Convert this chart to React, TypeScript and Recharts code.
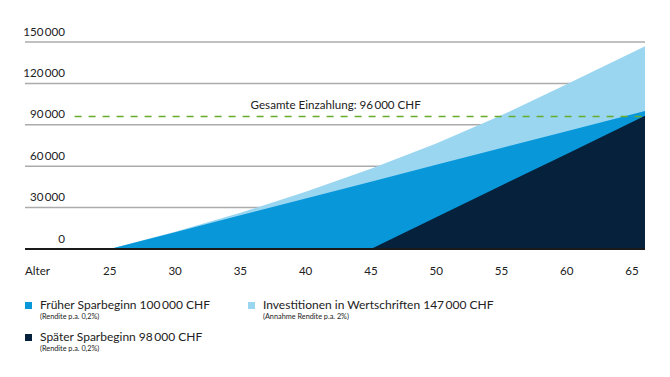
import { AreaChart, Area, XAxis, YAxis, CartesianGrid, ReferenceLine } from 'recharts'

const ages = [25, 30, 35, 40, 45, 50, 55, 60, 66]
const investValues = [0, 12500, 26200, 41400, 58100, 76500, 96900, 119400, 147000]
const earlyValues = [0, 12200, 24400, 36600, 48800, 61000, 73200, 85400, 100000]
const lateValues = [null, null, null, null, 0, 23000, 46000, 68900, 96500]

const yTicks = [0, 30000, 60000, 90000, 120000, 150000]
const xTicks = [18.5, 25, 30, 35, 40, 45, 50, 55, 60, 65]
const xStartLabel = 'Alter'
const totalDeposit = 96000

const FONT = 'Lato, "Open Sans", sans-serif'
const TEXT = '#222'
const FS = 11.6
const C_INVEST = '#9bd6f1'
const C_EARLY = '#0898da'
const C_LATE = '#06213b'
const C_DASH = '#66ad2c'

const data = ages.map((age, i) => ({
  age,
  invest: investValues[i],
  early: earlyValues[i],
  late: lateValues[i],
}))

const fmt = (v: number) => {
  if (v === 0) return '0'
  const s = String(v)
  return s.slice(0, s.length - 3) + '\u2009' + s.slice(-3)
}

const YTick = ({ y, payload }: any) => (
  <text x={65} y={y - 11} textAnchor="end" dominantBaseline="central" fontSize={FS} fill={TEXT} fontFamily={FONT}>
    {fmt(payload.value)}
  </text>
)

const XTick = ({ x, y, payload }: any) => {
  const first = payload.value === xTicks[0]
  return (
    <text x={x} y={y + 13} textAnchor={first ? 'start' : 'middle'} dominantBaseline="central" fontSize={FS} fill={TEXT} fontFamily={FONT}>
      {first ? xStartLabel : payload.value}
    </text>
  )
}

const DashLabel = ({ viewBox }: any) => (
  <text x={viewBox.x + 176} y={viewBox.y - 12} dominantBaseline="central" fontSize={FS} fill={TEXT} fontFamily={FONT}>
    {`Gesamte Einzahlung: ${fmt(totalDeposit)} CHF`}
  </text>
)

const LegendItem = ({ color, title, sub, left, top }: { color: string; title: string; sub: string; left: number; top: number }) => (
  <div style={{ position: 'absolute', left, top }}>
    <div style={{ position: 'absolute', left: 0, top: 5, width: 7, height: 7, background: color }} />
    <div style={{ position: 'absolute', left: 15, top: 0, whiteSpace: 'nowrap', fontSize: 12, color: TEXT, lineHeight: '16px' }}>{title}</div>
    <div style={{ position: 'absolute', left: 15, top: 15, whiteSpace: 'nowrap', fontSize: 7.3, color: TEXT, lineHeight: '9px' }}>{sub}</div>
  </div>
)

export default function App() {
  return (
    <div style={{ position: 'absolute', left: 0, top: 0, width: 670, height: 377, background: '#fff', fontFamily: FONT }}>
      <AreaChart width={670} height={290} data={data} margin={{ top: 42, right: 25, left: -15, bottom: 11 }}>
        <CartesianGrid vertical={false} stroke="#ababab" strokeWidth={1.5} />
        <XAxis
          dataKey="age"
          type="number"
          domain={[xTicks[0], 66]}
          ticks={xTicks}
          interval={0}
          tickLine={false}
          axisLine={{ stroke: '#1a1a1a', strokeWidth: 2 }}
          height={30}
          tick={<XTick />}
        />
        <YAxis domain={[0, 150000]} ticks={yTicks} width={40} axisLine={false} tickLine={false} tick={<YTick />} />
        <Area type="linear" dataKey="invest" stroke="none" fill={C_INVEST} fillOpacity={1} isAnimationActive={false} dot={false} activeDot={false} />
        <Area type="linear" dataKey="early" stroke="none" fill={C_EARLY} fillOpacity={1} isAnimationActive={false} dot={false} activeDot={false} />
        <Area type="linear" dataKey="late" stroke="none" fill={C_LATE} fillOpacity={1} isAnimationActive={false} dot={false} activeDot={false} />
        <ReferenceLine
          segment={[{ x: 22.3, y: totalDeposit }, { x: 66, y: totalDeposit }]}
          stroke={C_DASH}
          strokeWidth={1.5}
          strokeDasharray="7 7"
          label={<DashLabel />}
        />
      </AreaChart>
      <LegendItem color={C_EARLY} title={`Früher Sparbeginn ${fmt(100000)} CHF`} sub="(Rendite p.a. 0,2%)" left={25} top={297} />
      <LegendItem color={C_INVEST} title={`Investitionen in Wertschriften ${fmt(147000)} CHF`} sub="(Annahme Rendite p.a. 2%)" left={248} top={297} />
      <LegendItem color={C_LATE} title={`Später Sparbeginn ${fmt(98000)} CHF`} sub="(Rendite p.a. 0,2%)" left={25} top={329} />
    </div>
  )
}
